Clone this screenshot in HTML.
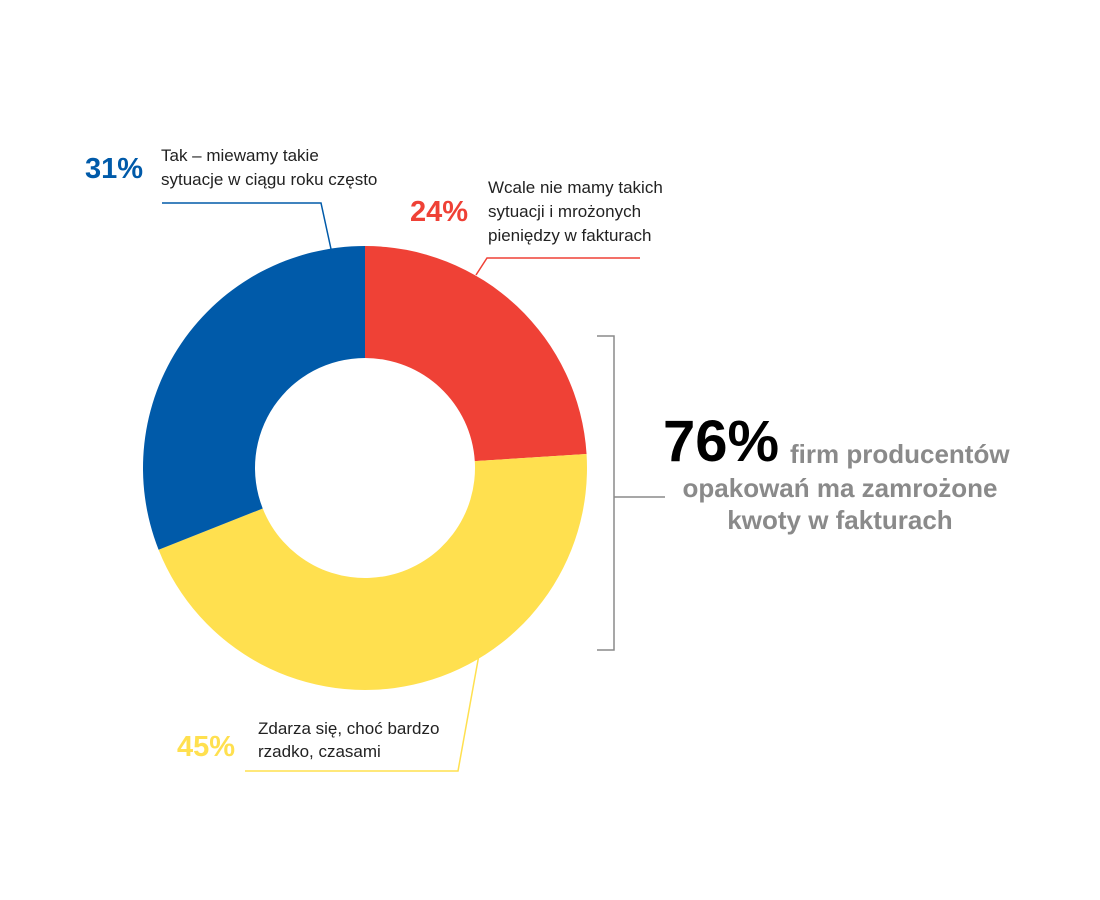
<!DOCTYPE html>
<html><head><meta charset="utf-8"><style>
html,body{margin:0;padding:0;background:#fff;}
svg{display:block;font-family:"Liberation Sans",sans-serif;}
</style></head><body>
<svg id="chart" width="1100" height="900" viewBox="0 0 1100 900">
<g id="slices"></g>
<g fill="none" stroke-width="1.5">
<polyline points="331,249 321,203 162,203" stroke="#005aa9"/>
<polyline points="476,275 487,258 640,258" stroke="#ef4136"/>
<polyline points="482,638 458,771 245,771" stroke="#ffe04f"/>
<polyline points="597,336 614,336 614,650 597,650" stroke="#8a8a8a"/>
<line x1="614" y1="497" x2="665" y2="497" stroke="#8a8a8a"/>
</g>
<g>
<text x="85" y="178" font-size="29" font-weight="bold" fill="#005aa9">31%</text>
<text x="161" y="161" font-size="17" fill="#222">Tak – miewamy takie</text>
<text x="161" y="185" font-size="17" fill="#222">sytuacje w ciągu roku często</text>
</g>
<g>
<text x="410" y="221" font-size="29" font-weight="bold" fill="#ef4136">24%</text>
<text x="488" y="193" font-size="17" fill="#222">Wcale nie mamy takich</text>
<text x="488" y="217" font-size="17" fill="#222">sytuacji i mrożonych</text>
<text x="488" y="241" font-size="17" fill="#222">pieniędzy w fakturach</text>
</g>
<g>
<text x="177" y="756" font-size="29" font-weight="bold" fill="#ffe04f">45%</text>
<text x="258" y="734" font-size="17" fill="#222">Zdarza się, choć bardzo</text>
<text x="258" y="757" font-size="17" fill="#222">rzadko, czasami</text>
</g>
<g font-weight="bold">
<text x="663" y="461" font-size="58" fill="#000">76%</text>
<text x="790" y="463" font-size="26" fill="#8a8a8a">firm producentów</text>
<text x="840" y="497" font-size="26" fill="#8a8a8a" text-anchor="middle">opakowań ma zamrożone</text>
<text x="840" y="529" font-size="26" fill="#8a8a8a" text-anchor="middle">kwoty w fakturach</text>
</g>
</svg>
<script>
const categories = ["Wcale nie", "Zdarza się", "Tak często"];
const values = [24, 45, 31];
const colors = ["#ef4136", "#ffe04f", "#005aa9"];
const cx = 365, cy = 468, R = 222, r = 110;
const g = document.getElementById('slices');
const total = values.reduce((a, b) => a + b, 0);
let acc = 0;
function pt(a, rad) { return [cx + rad * Math.sin(a), cy - rad * Math.cos(a)]; }
values.forEach((v, i) => {
  const a0 = acc / total * 2 * Math.PI; acc += v;
  const a1 = acc / total * 2 * Math.PI;
  const large = (a1 - a0) > Math.PI ? 1 : 0;
  const [x0, y0] = pt(a0, R), [x1, y1] = pt(a1, R), [x2, y2] = pt(a1, r), [x3, y3] = pt(a0, r);
  const p = document.createElementNS('http://www.w3.org/2000/svg', 'path');
  p.setAttribute('d', `M${x0},${y0} A${R},${R} 0 ${large} 1 ${x1},${y1} L${x2},${y2} A${r},${r} 0 ${large} 0 ${x3},${y3} Z`);
  p.setAttribute('fill', colors[i]);
  
  
  g.appendChild(p);
});
</script>
</body></html>
